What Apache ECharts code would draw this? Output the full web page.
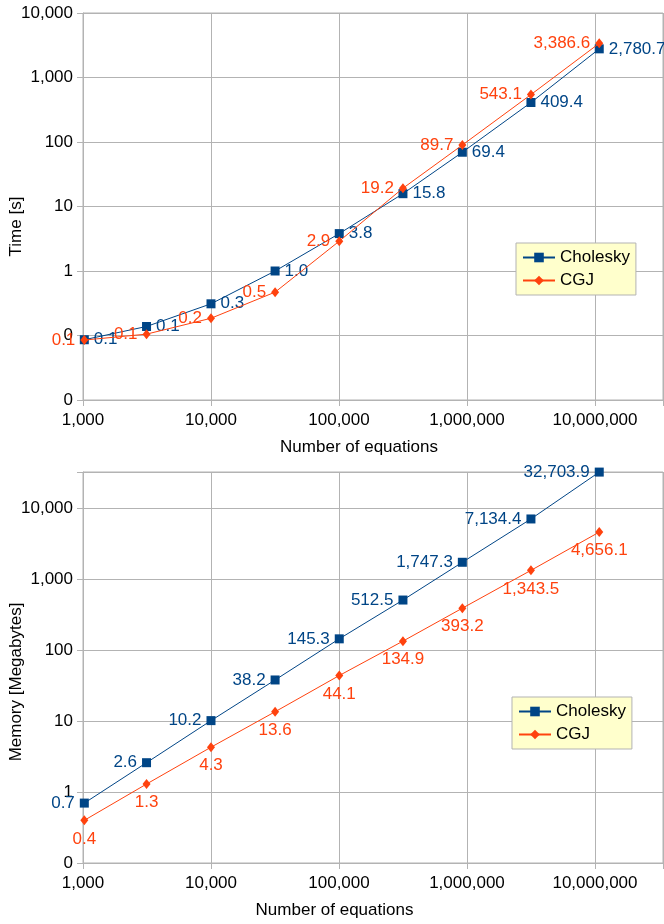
<!DOCTYPE html>
<html>
<head>
<meta charset="utf-8">
<script src="https://cdn.jsdelivr.net/npm/echarts@6/dist/echarts.min.js"></script>
<style>html,body{margin:0;padding:0;background:#fff}#c{width:664px;height:924px}</style>
</head>
<body>
<div id="c"></div>
<script>
// Number of equations (x values)
const equations = [1024, 3136, 10000, 31684, 100489, 316000, 920000, 3160000, 10800000];
// Time [s]
const timeCholesky = [0.086, 0.138, 0.31, 1.0, 3.8, 15.8, 69.4, 409.4, 2780.7];
const timeCGJ = [0.085, 0.105, 0.185, 0.47, 2.9, 19.2, 89.7, 543.1, 3386.6];
// Memory [Megabytes]
const memCholesky = [0.7, 2.6, 10.2, 38.2, 145.3, 512.5, 1747.3, 7134.4, 32703.9];
const memCGJ = [0.4, 1.3, 4.3, 13.6, 44.1, 134.9, 393.2, 1343.5, 4656.1];
const seriesNames = ['Cholesky', 'CGJ'];

const FONT = 'Liberation Sans';
const BLUE = '#004586', ORANGE = '#ff420e', GRID = '#b3b3b3';

function pairs(ys) { return equations.map((x, i) => [x, ys[i]]); }
function axisFmt(v) {
  const e = Math.log10(v);
  if (Math.abs(e - Math.round(e)) > 1e-6) return '';
  return Math.round(v).toLocaleString('en-US');
}
function valFmt(p) {
  return Number(p.value[1]).toLocaleString('en-US', {minimumFractionDigits: 1, maximumFractionDigits: 1});
}
const txt = {fontFamily: FONT, fontSize: 17, color: '#000'};

function xAxis(gridIndex, padRight) {
  return {
    type: 'log', logBase: 10, gridIndex, min: 1000, max: 34000000, interval: 1,
    name: 'Number of equations', nameLocation: 'middle', nameGap: 39, nameMoveOverlap: false,
    nameTextStyle: Object.assign({}, txt, {padding: [0, padRight, 0, 0]}),
    axisLine: {show: true, lineStyle: {color: GRID}},
    axisTick: {show: true, length: 6, lineStyle: {color: GRID}},
    splitLine: {show: true, lineStyle: {color: GRID, width: 1}},
    minorTick: {show: false},
    axisLabel: Object.assign({}, txt, {formatter: axisFmt, margin: 12, hideOverlap: false, showMinLabel: true})
  };
}
function yAxis(gridIndex, name, min, max, padRight) {
  return {
    type: 'log', logBase: 10, gridIndex, min, max, interval: 1,
    name, nameLocation: 'middle', nameGap: 58, nameMoveOverlap: false,
    nameTextStyle: Object.assign({}, txt, {padding: [0, padRight, 0, 0]}),
    axisLine: {show: true, lineStyle: {color: GRID}},
    axisTick: {show: true, length: 6, lineStyle: {color: GRID}},
    splitLine: {show: true, lineStyle: {color: GRID, width: 1}},
    axisLabel: Object.assign({}, txt, {formatter: axisFmt, margin: 10, hideOverlap: false, showMinLabel: true})
  };
}
function series(name, data, gi, color, symbol, size, pos) {
  return {
    name, type: 'line', xAxisIndex: gi, yAxisIndex: gi, data: pairs(data),
    symbol, symbolSize: size, showAllSymbol: true,
    lineStyle: {color, width: 1}, itemStyle: {color},
    label: {show: true, position: pos, distance: 5, formatter: valFmt,
      fontFamily: FONT, fontSize: 17, color},
    emphasis: {disabled: true}, animation: false, z: name === 'Cholesky' ? 2 : 3
  };
}
function legend(left, top) {
  return {
    orient: 'vertical', left, top, data: seriesNames,
    backgroundColor: '#ffffcc', borderColor: GRID, borderWidth: 1,
    padding: [6, 6], itemGap: 6, itemWidth: 32, itemHeight: 12,
    textStyle: {fontFamily: FONT, fontSize: 17, color: '#000', lineHeight: 17},
    selectedMode: false
  };
}

const chart = echarts.init(document.getElementById('c'), null, {renderer: 'canvas'});
chart.setOption({
  backgroundColor: '#fff',
  animation: false,
  grid: [
    {left: 83, right: 1, top: 13, height: 387, show: true, borderColor: GRID, borderWidth: 1,
     containLabel: false, outerBoundsMode: 'none'},
    {left: 83, right: 1, top: 472, height: 391, show: true, borderColor: GRID, borderWidth: 1,
     containLabel: false, outerBoundsMode: 'none'}
  ],
  xAxis: [xAxis(0, 28), xAxis(1, 77)],
  yAxis: [yAxis(0, 'Time [s]', 0.01, 10000, 40), yAxis(1, 'Memory [Megabytes]', 0.1, 32800, 29)],
  legend: [legend(516, 243), legend(512, 697)],
  series: [
    series('Cholesky', timeCholesky, 0, BLUE, 'rect', 9, 'right'),
    series('CGJ', timeCGJ, 0, ORANGE, 'diamond', [8, 10], 'left'),
    series('Cholesky', memCholesky, 1, BLUE, 'rect', 9, 'left'),
    series('CGJ', memCGJ, 1, ORANGE, 'diamond', [8, 10], 'bottom')
  ]
});
</script>
</body>
</html>
